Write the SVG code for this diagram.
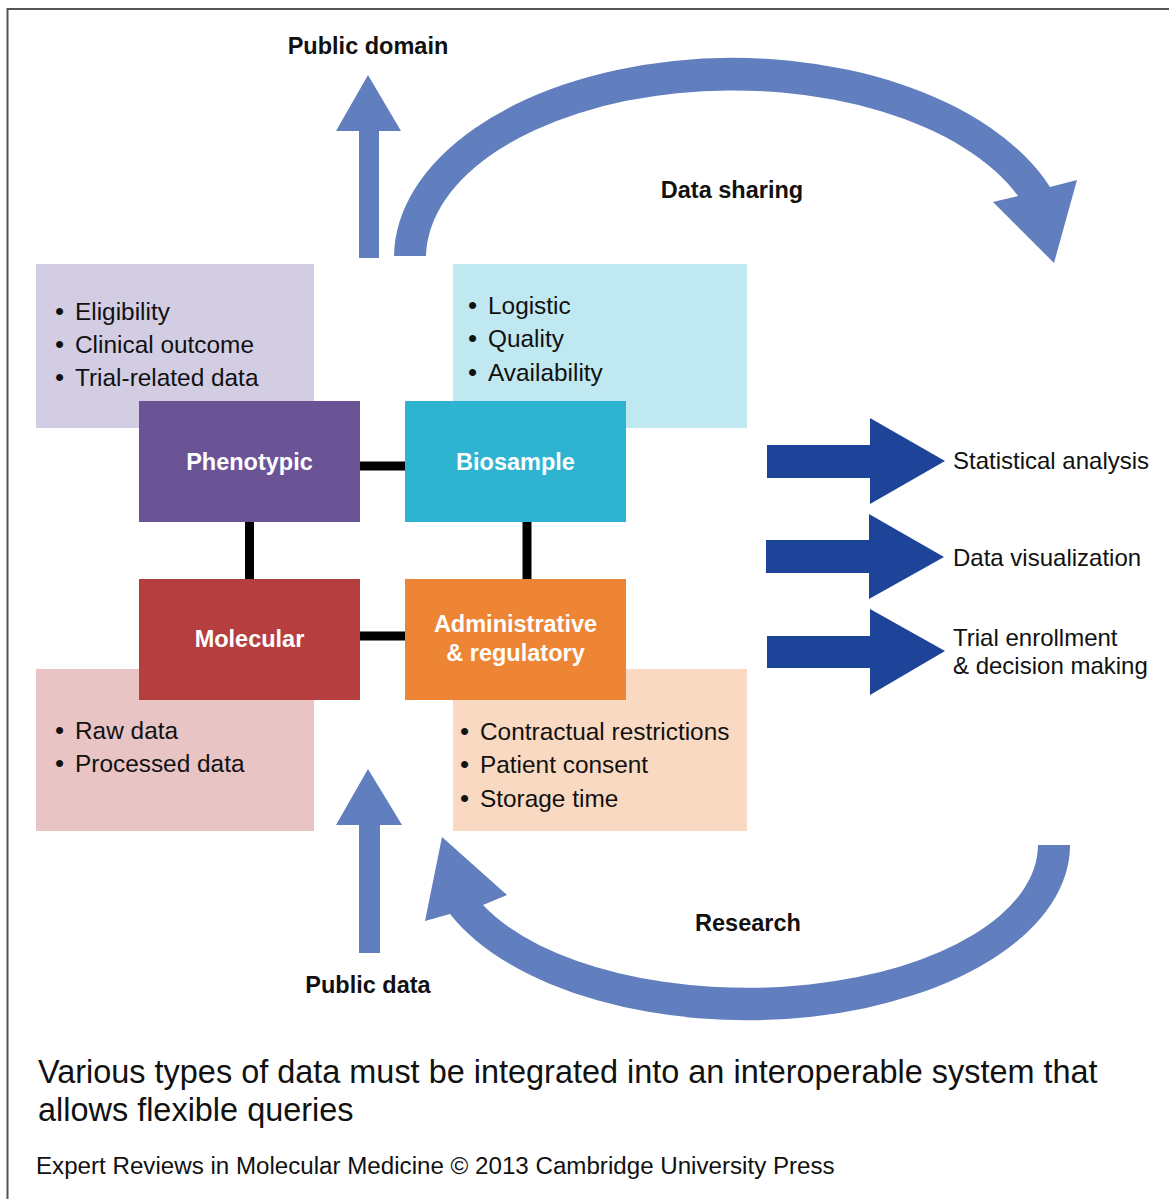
<svg xmlns="http://www.w3.org/2000/svg" width="1169" height="1199" viewBox="0 0 1169 1199">
<style>
text{font-family:"Liberation Sans",Arial,Helvetica,sans-serif;fill:#111}
.lbl{font-size:23.5px;font-weight:bold;text-anchor:middle}
.nl{font-size:23.5px;font-weight:bold;fill:#fff;text-anchor:middle}
.it{font-size:24.4px}
.bu{font-size:26px}
.out{font-size:24px}
.flow{fill:#617FBE}
.dark{fill:#1E4499}
.link{stroke:#000;stroke-width:9;fill:none}
</style>
<rect width="1169" height="1199" fill="#fff"/>
<path d="M7.5,1199 V9 H1169" fill="none" stroke="#555" stroke-width="2"/>

<g id="flows">
<path id="public-domain-arrow" class="flow" d="M359,258 V131 H336 L368,75 L401,131 H379 V258 Z"/>
<path id="public-data-arrow" class="flow" d="M359,953 V825 H336 L368,769 L402,825 H380 V953 Z"/>
<path id="data-sharing-arrow" class="flow" d="M394,256 A339 200 0 0 1 1050,187 L1077,180 L1054,263 L993,202 L1018,196 A307 168 0 0 0 426,256 Z"/>
<path id="research-arrow" class="flow" d="M1070,845 A323 175 0 0 1 450,914 L425,921 L442,837 L507,895 L483,905 A291 143 0 0 0 1038,845 Z"/>
</g>

<text class="lbl" x="368" y="54">Public domain</text>
<text class="lbl" x="732" y="198">Data sharing</text>
<text class="lbl" x="748" y="931">Research</text>
<text class="lbl" x="368" y="993">Public data</text>

<g id="phenotypic-details">
<rect x="36" y="264" width="278" height="164" fill="#D3CDE3"/>
<text class="bu" x="55" y="320">•</text><text class="it" x="75" y="320">Eligibility</text>
<text class="bu" x="55" y="353">•</text><text class="it" x="75" y="353">Clinical outcome</text>
<text class="bu" x="55" y="386">•</text><text class="it" x="75" y="386">Trial-related data</text>
</g>
<g id="biosample-details">
<rect x="453" y="264" width="294" height="164" fill="#C0E8F0"/>
<text class="bu" x="468" y="314">•</text><text class="it" x="488" y="314">Logistic</text>
<text class="bu" x="468" y="347">•</text><text class="it" x="488" y="347">Quality</text>
<text class="bu" x="468" y="381">•</text><text class="it" x="488" y="381">Availability</text>
</g>
<g id="molecular-details">
<rect x="36" y="669" width="278" height="162" fill="#E8C4C4"/>
<text class="bu" x="55" y="739">•</text><text class="it" x="75" y="739">Raw data</text>
<text class="bu" x="55" y="772">•</text><text class="it" x="75" y="772">Processed data</text>
</g>
<g id="admin-details">
<rect x="453" y="669" width="294" height="162" fill="#F9D9C2"/>
<text class="bu" x="460" y="740">•</text><text class="it" x="480" y="740">Contractual restrictions</text>
<text class="bu" x="460" y="773">•</text><text class="it" x="480" y="773">Patient consent</text>
<text class="bu" x="460" y="807">•</text><text class="it" x="480" y="807">Storage time</text>
</g>

<g id="connectors">
<line class="link" x1="360" y1="466" x2="405" y2="466"/>
<line class="link" x1="360" y1="636" x2="405" y2="636"/>
<line class="link" x1="249.5" y1="522" x2="249.5" y2="579"/>
<line class="link" x1="527" y1="522" x2="527" y2="579"/>
</g>

<g id="phenotypic">
<rect x="139" y="401" width="221" height="121" fill="#6B5496"/>
<text class="nl" x="249.5" y="470">Phenotypic</text>
</g>
<g id="biosample">
<rect x="405" y="401" width="221" height="121" fill="#2EB4D0"/>
<text class="nl" x="515.5" y="470">Biosample</text>
</g>
<g id="molecular">
<rect x="139" y="579" width="221" height="121" fill="#B53F3F"/>
<text class="nl" x="249.5" y="647">Molecular</text>
</g>
<g id="administrative">
<rect x="405" y="579" width="221" height="121" fill="#EE8535"/>
<text class="nl" x="515.5" y="632">Administrative</text>
<text class="nl" x="515.5" y="661">&amp; regulatory</text>
</g>

<g id="outputs">
<g id="statistical-analysis">
<path class="dark" d="M767,445 H870 V418 L945,461 L870,504 V478 H767 Z"/>
<text class="out" x="953" y="469">Statistical analysis</text>
</g>
<g id="data-visualization">
<path class="dark" d="M766,540 H869 V514 L944,557 L869,599 V573 H766 Z"/>
<text class="out" x="953" y="566">Data visualization</text>
</g>
<g id="trial-enrollment">
<path class="dark" d="M767,636 H870 V609 L945,651 L870,695 V668 H767 Z"/>
<text class="out" x="953" y="646">Trial enrollment</text>
<text class="out" x="953" y="674">&amp; decision making</text>
</g>
</g>

<text x="38" y="1083" style="font-size:32.45px">Various types of data must be integrated into an interoperable system that</text>
<text x="38" y="1121" style="font-size:32.45px">allows flexible queries</text>
<text x="36" y="1174" style="font-size:24.15px">Expert Reviews in Molecular Medicine © 2013 Cambridge University Press</text>
</svg>
